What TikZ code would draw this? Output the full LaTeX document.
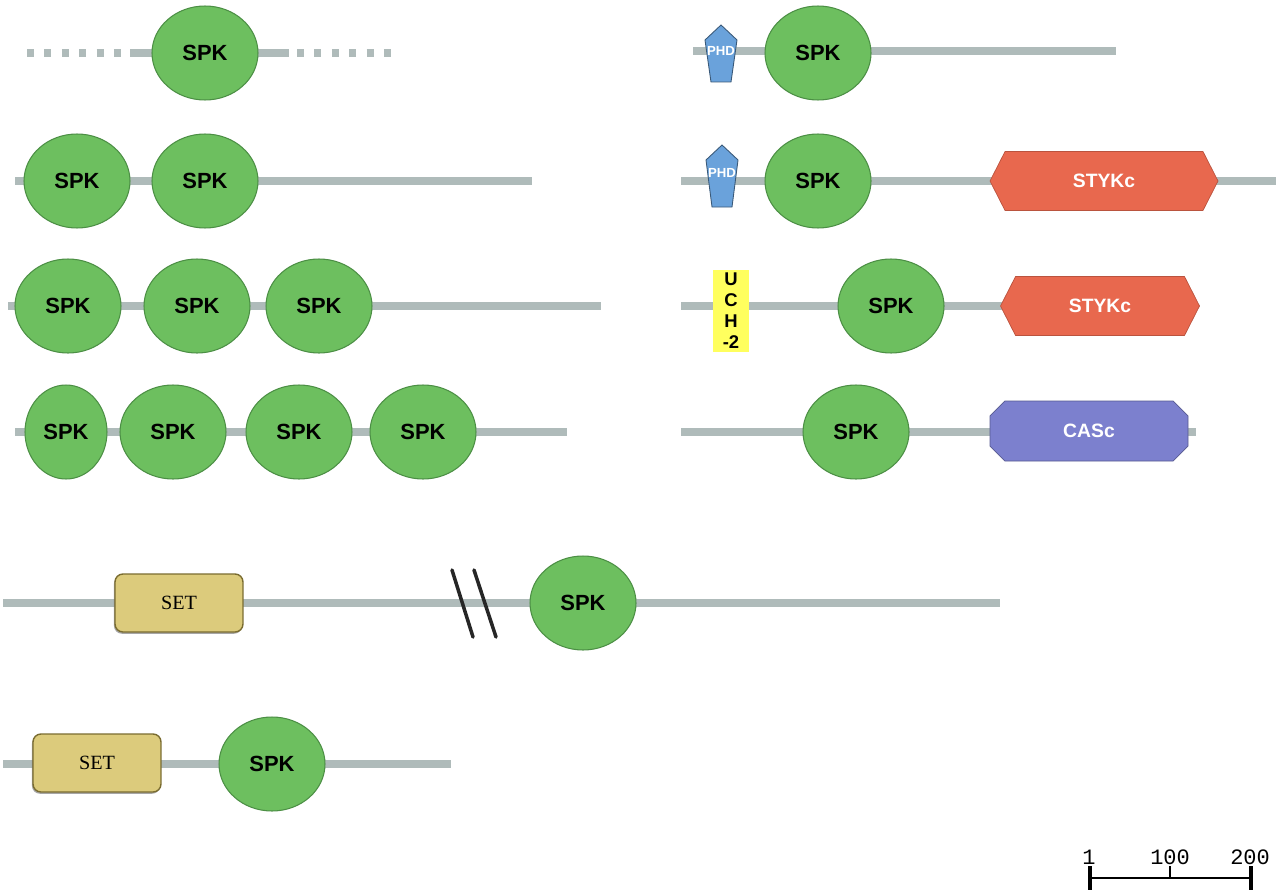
\documentclass[tikz,border=0pt]{standalone}
\usepackage{fontspec}
\setsansfont{Liberation Sans}
\newfontfamily\domserif{Liberation Serif}
\newfontfamily\rulerfont{Liberation Mono}
\usetikzlibrary{shapes.geometric, shapes.symbols, shapes.misc, shadows}
\definecolor{spkgreen}{HTML}{6DBF5F}
\definecolor{spkedge}{HTML}{4C8F45}
\definecolor{backgray}{HTML}{AFBBBA}
\definecolor{setkhaki}{HTML}{DCCB7C}
\definecolor{setedge}{HTML}{7A6C30}
\definecolor{stykred}{HTML}{E8684E}
\definecolor{cascblue}{HTML}{7C80CE}
\definecolor{phdblue}{HTML}{6AA2DB}
\definecolor{uchyellow}{HTML}{FFFF5E}

\begin{document}
\begin{tikzpicture}[x=0.02cm, y=-0.02cm,
    backbone/.style={line width=4pt, backgray},
    spk/.style={ellipse, fill=spkgreen, draw=spkedge, line width=0.6pt, inner sep=0pt,
      minimum width=2.12cm, minimum height=1.88cm, font=\sffamily\bfseries\fontsize{12.5}{14}\selectfont},
    setbox/.style={rectangle, rounded corners=4.5pt, fill=setkhaki, draw=setedge, line width=0.8pt,
      minimum width=2.56cm, minimum height=1.16cm, font=\domserif\fontsize{11.5}{13}\selectfont,
      drop shadow={shadow xshift=-0.6pt, shadow yshift=-1pt, opacity=0.7}},
    stykbox/.style={signal, signal to=west and east, signal pointer angle=126, fill=stykred,
      draw=stykred!80!black, line width=0.4pt, inner sep=0pt, minimum height=1.18cm,
      text=white, font=\sffamily\bfseries\fontsize{11}{13}\selectfont},
    cascbox/.style={chamfered rectangle, chamfered rectangle xsep=0.16cm, chamfered rectangle ysep=0.16cm,
      fill=cascblue, draw=cascblue!70!black, line width=0.4pt, inner sep=0pt,
      minimum width=3.96cm, minimum height=1.2cm, text=white,
      font=\sffamily\bfseries\fontsize{11}{13}\selectfont},
    phdbox/.style={fill=phdblue, draw=phdblue!55!black, line width=0.5pt},
    phdtext/.style={text=white, font=\sffamily\bfseries\fontsize{7.5}{8}\selectfont},
    uchbox/.style={rectangle, fill=uchyellow, inner sep=0pt, minimum width=0.72cm, minimum height=1.66cm,
      align=center, font=\sffamily\bfseries\fontsize{10.5}{12}\selectfont},
    breakmark/.style={line width=2pt, black!85, line cap=round},
    rulerline/.style={line width=1pt, black},
    rulertick/.style={line width=1.8pt, black}]
  \useasboundingbox (0,0) rectangle (1280,892);

  % Fila A1: un dominio, extremos punteados
  \coordinate (a1l) at (27,53);
  \coordinate (a1m) at (122,53);
  \coordinate (a1n) at (297,53);
  \coordinate (a1r) at (393,53);
  \draw[backbone, dash pattern=on 4pt off 5.9pt] (a1l) -- (a1m);
  \draw[backbone, dash pattern=on 4pt off 5.9pt] (a1n) -- (a1r);
  \draw[backbone] (130,53) -- (289,53);
  \node[spk] (spka1) at (205,53) {SPK};

  % Fila A2: dos dominios
  \coordinate (a2l) at (15,181);
  \coordinate (a2r) at (532,181);
  \draw[backbone] (a2l) -- (a2r);
  \node[spk] (spka2a) at (77,181) {SPK};
  \node[spk] (spka2b) at (205,181) {SPK};

  % Fila A3: tres dominios
  \coordinate (a3l) at (8,306);
  \coordinate (a3r) at (601,306);
  \draw[backbone] (a3l) -- (a3r);
  \node[spk] (spka3a) at (68,306) {SPK};
  \node[spk] (spka3b) at (197,306) {SPK};
  \node[spk] (spka3c) at (319,306) {SPK};

  % Fila A4: cuatro dominios
  \coordinate (a4l) at (15,432);
  \coordinate (a4r) at (567,432);
  \draw[backbone] (a4l) -- (a4r);
  \node[spk, minimum width=1.64cm] (spka4a) at (66,432) {SPK};
  \node[spk] (spka4b) at (173,432) {SPK};
  \node[spk] (spka4c) at (299,432) {SPK};
  \node[spk] (spka4d) at (423,432) {SPK};

  % Fila B1: PHD + SPK
  \coordinate (b1l) at (693,51);
  \coordinate (b1r) at (1116,51);
  \draw[backbone] (b1l) -- (b1r);
  \draw[phdbox] (705,40) -- (721,25) -- (737,40) -- (731,82) -- (711,82) -- cycle;
  \node[phdtext] (phdb1) at (721,51) {PHD};
  \node[spk] (spkb1) at (818,53) {SPK};

  % Fila B2: PHD + SPK + STYKc
  \coordinate (b2l) at (681,181);
  \coordinate (b2r) at (1276,181);
  \draw[backbone] (b2l) -- (b2r);
  \draw[phdbox] (706,160) -- (722,145) -- (738,160) -- (732,207) -- (712,207) -- cycle;
  \node[phdtext] (phdb2) at (722,173) {PHD};
  \node[spk] (spkb2) at (818,181) {SPK};
  \node[stykbox, minimum width=4.56cm] (styb2) at (1104,181) {STYKc};

  % Fila B3: UCH-2 + SPK + STYKc
  \coordinate (b3l) at (681,306);
  \coordinate (b3r) at (1010,306);
  \draw[backbone] (b3l) -- (b3r);
  \node[uchbox] (uchb3) at (731,311) {U\\C\\H\\-2};
  \node[spk] (spkb3) at (891,306) {SPK};
  \node[stykbox, minimum width=3.98cm] (styb3) at (1100,306) {STYKc};

  % Fila B4: SPK + CASc
  \coordinate (b4l) at (681,432);
  \coordinate (b4r) at (1196,432);
  \draw[backbone] (b4l) -- (b4r);
  \node[spk] (spkb4) at (856,432) {SPK};
  \node[cascbox] (cascb4) at (1089,431) {CASc};

  % Fila C1: SET ... // ... SPK
  \coordinate (c1l) at (3,603);
  \coordinate (c1r) at (1000,603);
  \draw[backbone] (c1l) -- (c1r);
  \node[setbox] (setc1) at (179,603) {SET};
  \draw[breakmark] (452,570) -- (473,637);
  \draw[breakmark] (474,570) -- (496,637);
  \node[spk] (spkc1) at (583,603) {SPK};

  % Fila C2: SET + SPK
  \coordinate (c2l) at (3,764);
  \coordinate (c2r) at (451,764);
  \draw[backbone] (c2l) -- (c2r);
  \node[setbox] (setc2) at (97,763) {SET};
  \node[spk] (spkc2) at (272,764) {SPK};

  % Escala
  \coordinate (sc1) at (1090,878);
  \coordinate (sc100) at (1170,878);
  \coordinate (sc200) at (1251,878);
  \draw[rulerline] (sc1) -- (sc200);
  \draw[rulertick] (1090,866) -- (1090,890);
  \draw[rulerline] (1170,866) -- (1170,878);
  \draw[rulertick] (1251,866) -- (1251,890);
  \node[font=\rulerfont\fontsize{12.5}{14}\selectfont] (lab1) at (1089,857) {1};
  \node[font=\rulerfont\fontsize{12.5}{14}\selectfont] (lab100) at (1170,857) {100};
  \node[font=\rulerfont\fontsize{12.5}{14}\selectfont] (lab200) at (1250,857) {200};
\end{tikzpicture}
\end{document}
